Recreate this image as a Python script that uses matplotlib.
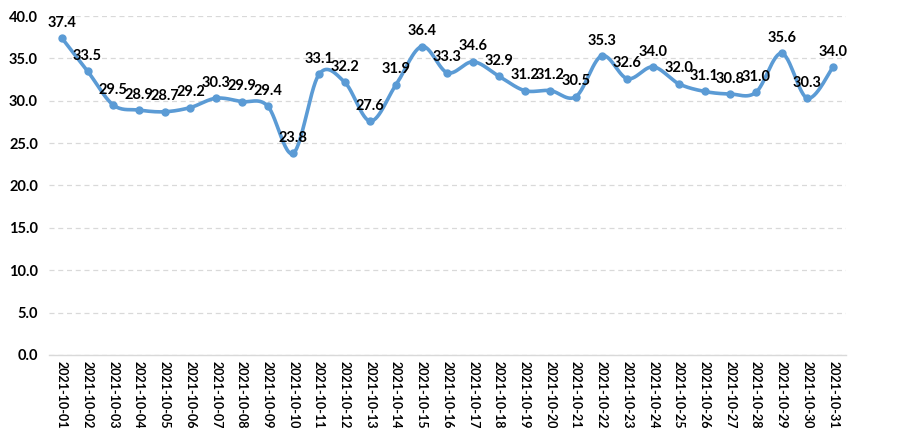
import numpy as np
import matplotlib
matplotlib.use('Agg')
import matplotlib.pyplot as plt

# daily values
dates = ['2021-10-%02d' % d for d in range(1, 32)]
values = [37.4, 33.5, 29.5, 28.9, 28.7, 29.2, 30.3, 29.9, 29.4, 23.8,
          33.1, 32.2, 27.6, 31.9, 36.4, 33.3, 34.6, 32.9, 31.2, 31.2,
          30.5, 35.3, 32.6, 34.0, 32.0, 31.1, 30.8, 31.0, 35.6, 30.3, 34.0]
y_ticks = [0, 5, 10, 15, 20, 25, 30, 35, 40]

plt.rcParams['font.family'] = ['Lato', 'DejaVu Sans']
plt.rcParams['font.weight'] = 'bold'


# Excel-like smooth line: cubic bezier through the points
def smooth(xs, ys, n=30):
    pts = np.column_stack([xs, ys]).astype(float)
    out = []
    for i in range(len(pts) - 1):
        p0 = pts[i - 1] if i > 0 else pts[i]
        p1 = pts[i]
        p2 = pts[i + 1]
        p3 = pts[i + 2] if i + 2 < len(pts) else pts[i + 1]
        c1 = p1 + (p2 - p0) / 6
        c2 = p2 - (p3 - p1) / 6
        t = np.linspace(0, 1, n)[:, None]
        seg = ((1 - t) ** 3) * p1 + 3 * ((1 - t) ** 2) * t * c1 + 3 * (1 - t) * t ** 2 * c2 + t ** 3 * p2
        out.append(seg if i == 0 else seg[1:])
    out = np.vstack(out)
    return out[:, 0], out[:, 1]


x = np.arange(len(values))
sx, sy = smooth(x, values)

fig = plt.figure(figsize=(8.99, 4.28), dpi=100)
ax = fig.add_axes([0.0545, 0.1706, 0.8865, 0.792])

line_color = '#5B9BD5'
ax.plot(sx, sy, color=line_color, linewidth=2.6, zorder=3)
ax.plot(x, values, 'o', color=line_color, markersize=5, zorder=4)

for xi, v in zip(x, values):
    ax.annotate(f'{v:.1f}', xy=(xi, v), xytext=(0, 6), textcoords='offset points',
                ha='center', va='bottom', fontsize=10.5, fontweight='bold', color='black')

ax.set_xlim(-0.5, len(values) - 0.5)
ax.set_ylim(0, 40)
ax.set_yticks(y_ticks)
ax.set_yticklabels([f'{t:.1f}' for t in y_ticks], fontsize=10.5, fontweight='bold')
ax.set_xticks(x)
ax.set_xticklabels(dates, rotation=-90, fontsize=9, fontweight='bold', va='top')

ax.grid(axis='y', color='#D9D9D9', linestyle=(0, (4, 3)), linewidth=0.9)
ax.set_axisbelow(True)
for s in ['top', 'right', 'left']:
    ax.spines[s].set_visible(False)
ax.spines['bottom'].set_color('#D9D9D9')
ax.spines['bottom'].set_linewidth(1)
ax.tick_params(axis='x', length=0, pad=4)
ax.tick_params(axis='y', length=0, pad=8)

fig.savefig('out.png', dpi=100)
